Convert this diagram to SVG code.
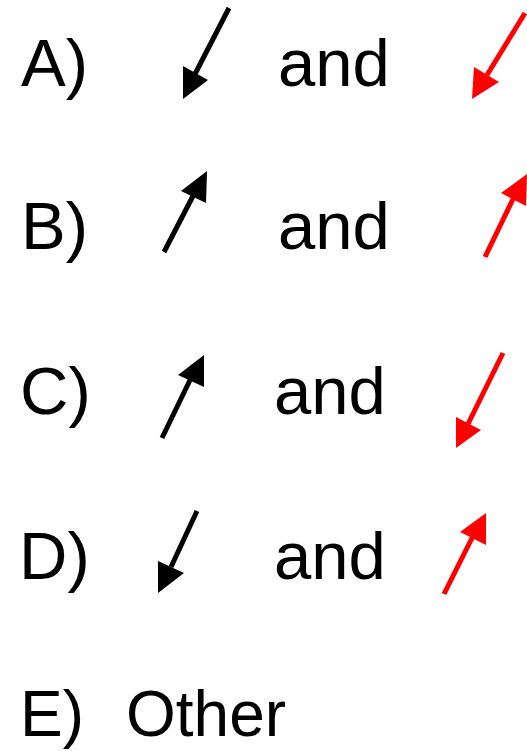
<svg xmlns="http://www.w3.org/2000/svg" width="527" height="751" viewBox="0 0 527 751">
<style>
.t{font-family:"Liberation Sans",Arial,sans-serif;font-size:67px;fill:#000}
.e{font-size:64px}
.k line{stroke:#000;stroke-width:5;stroke-linecap:butt}
.k polygon{fill:#000}
.r line{stroke:#ff0000;stroke-width:5}
.r polygon{fill:#ff0000}
</style>
<rect width="527" height="751" fill="#fff"/>
<g id="labels">
<text class="t" x="21" y="86">A)</text>
<text class="t" x="278" y="86">and</text>
<text class="t" x="21" y="249">B)</text>
<text class="t" x="278" y="249">and</text>
<text class="t" x="20" y="414">C)</text>
<text class="t" x="274" y="414">and</text>
<text class="t" x="19" y="579">D)</text>
<text class="t" x="274" y="579">and</text>
<text class="t e" x="20" y="736">E)</text>
<text class="t e" x="126" y="736">Other</text>
</g>
<g id="connectors">
<g id="arrowA1" class="k"><line x1="229" y1="8" x2="195" y2="74"/><polygon points="183,99 183,66 208,80"/></g>
<g id="arrowA2" class="r"><line x1="525" y1="13" x2="487" y2="75"/><polygon points="472,99 474,67 499,82"/></g>
<g id="arrowB1" class="k"><line x1="164" y1="252" x2="194" y2="194"/><polygon points="207,171 181,191 206,203"/></g>
<g id="arrowB2" class="r"><line x1="485" y1="257" x2="514" y2="197"/><polygon points="527,174 501,193 526,206"/></g>
<g id="arrowC1" class="k"><line x1="162" y1="438" x2="191" y2="378"/><polygon points="204,355 178,375 204,387"/></g>
<g id="arrowC2" class="r"><line x1="503" y1="353" x2="468" y2="424"/><polygon points="456,448 456,417 481,430"/></g>
<g id="arrowD1" class="k"><line x1="197" y1="511" x2="171" y2="567"/><polygon points="158,593 158,561 184,573"/></g>
<g id="arrowD2" class="r"><line x1="444" y1="594" x2="473" y2="536"/><polygon points="486,513 460,532 486,545"/></g>
</g>
</svg>
